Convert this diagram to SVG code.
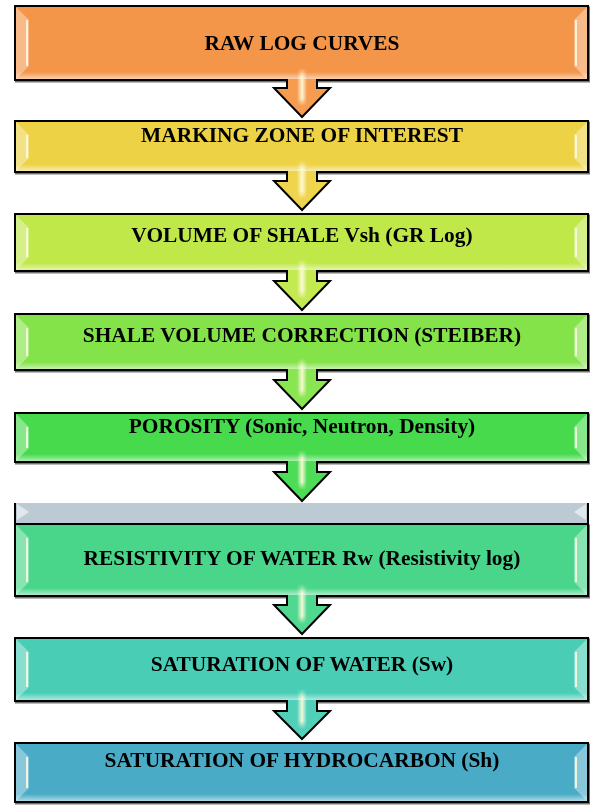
<svg xmlns="http://www.w3.org/2000/svg" width="592" height="805" viewBox="0 0 592 805">
<defs>
<linearGradient id="glowB" x1="0" y1="0" x2="0" y2="1">
<stop offset="0" stop-color="#fff" stop-opacity="0"/>
<stop offset="1" stop-color="#fff" stop-opacity="0.55"/>
</linearGradient>
<linearGradient id="shaftHi" x1="0" y1="0" x2="1" y2="0">
<stop offset="0" stop-color="#fff" stop-opacity="0"/>
<stop offset="0.5" stop-color="#fffbd0" stop-opacity="0.95"/>
<stop offset="1" stop-color="#fff" stop-opacity="0"/>
</linearGradient>
<linearGradient id="shaftFade" x1="0" y1="0" x2="0" y2="1">
<stop offset="0" stop-color="#fff" stop-opacity="0"/>
<stop offset="0.25" stop-color="#fff" stop-opacity="1"/>
<stop offset="0.8" stop-color="#fff" stop-opacity="1"/>
<stop offset="1" stop-color="#fff" stop-opacity="0"/>
</linearGradient>
<mask id="fadeMask" maskContentUnits="objectBoundingBox">
<rect width="1" height="1" fill="url(#shaftFade)"/>
</mask>
<filter id="sh" x="-5%" y="-5%" width="110%" height="115%">
<feDropShadow dx="1" dy="1.5" stdDeviation="0.6" flood-color="#000" flood-opacity="0.55"/>
</filter>
</defs>
<style>
.box{stroke:#000;stroke-width:2;stroke-linejoin:miter}
.bev{fill:#fff;fill-opacity:0.35}
.hl{stroke:#fffbe0;stroke-opacity:0.85;stroke-width:2;fill:none}
.glow{fill:url(#glowB)}
.lbl{font-family:"Liberation Serif","Times New Roman",serif;font-weight:bold;font-size:21.4px;fill:#000;text-anchor:middle;dominant-baseline:central}
.edge{fill:none;stroke:#000;stroke-width:2;stroke-linejoin:miter}
.hi{fill:url(#shaftHi)}
</style>

<!-- Nodes -->
<g id="n1" filter="url(#sh)">
<rect class="box" x="15" y="6" width="573" height="74" fill="#F4964A"/>
<polygon class="bev" points="16,7 29,20 29,66 16,79"/>
<polygon class="bev" points="587,7 574,20 574,66 587,79"/>
<line class="hl" x1="27" y1="20" x2="27" y2="66"/><line class="hl" x1="576" y1="20" x2="576" y2="66"/>
<rect class="glow" x="16" y="72" width="571" height="7"/>
<text class="lbl" x="302" y="43">RAW LOG CURVES</text>
</g>
<g id="n2" filter="url(#sh)">
<rect class="box" x="15" y="121" width="573" height="51" fill="#EDD245"/>
<polygon class="bev" points="16,122 29,135 29,158 16,171"/>
<polygon class="bev" points="587,122 574,135 574,158 587,171"/>
<line class="hl" x1="27" y1="135" x2="27" y2="158"/><line class="hl" x1="576" y1="135" x2="576" y2="158"/>
<rect class="glow" x="16" y="164" width="571" height="7"/>
<text class="lbl" x="302" y="135">MARKING ZONE OF INTEREST</text>
</g>
<g id="n3" filter="url(#sh)">
<rect class="box" x="15" y="214" width="573" height="57" fill="#C1E84A"/>
<polygon class="bev" points="16,215 29,228 29,257 16,270"/>
<polygon class="bev" points="587,215 574,228 574,257 587,270"/>
<line class="hl" x1="27" y1="228" x2="27" y2="257"/><line class="hl" x1="576" y1="228" x2="576" y2="257"/>
<rect class="glow" x="16" y="263" width="571" height="7"/>
<text class="lbl" x="302" y="235">VOLUME OF SHALE Vsh (GR Log)</text>
</g>
<g id="n4" filter="url(#sh)">
<rect class="box" x="15" y="314" width="573" height="56" fill="#84E34A"/>
<polygon class="bev" points="16,315 29,328 29,356 16,369"/>
<polygon class="bev" points="587,315 574,328 574,356 587,369"/>
<line class="hl" x1="27" y1="328" x2="27" y2="356"/><line class="hl" x1="576" y1="328" x2="576" y2="356"/>
<rect class="glow" x="16" y="362" width="571" height="7"/>
<text class="lbl" x="302" y="335">SHALE VOLUME CORRECTION (STEIBER)</text>
</g>
<g id="n5" filter="url(#sh)">
<rect class="box" x="15" y="413" width="573" height="49" fill="#46DA4E"/>
<polygon class="bev" points="16,414 29,427 29,448 16,461"/>
<polygon class="bev" points="587,414 574,427 574,448 587,461"/>
<line class="hl" x1="27" y1="427" x2="27" y2="448"/><line class="hl" x1="576" y1="427" x2="576" y2="448"/>
<rect class="glow" x="16" y="454" width="571" height="7"/>
<text class="lbl" x="302" y="426">POROSITY (Sonic, Neutron, Density)</text>
</g>
<g id="hidden-box">
<rect x="15" y="503" width="573" height="20" fill="#BCCBD3"/>
<line x1="15" y1="503" x2="15" y2="523" stroke="#000" stroke-width="2"/>
<line x1="588" y1="503" x2="588" y2="523" stroke="#000" stroke-width="2"/>
<polygon points="17,504 29,512 17,520" fill="#fff" fill-opacity="0.55"/>
<polygon points="586,504 574,512 586,520" fill="#fff" fill-opacity="0.55"/>
</g>
<g id="n6" filter="url(#sh)">
<rect class="box" x="15" y="524" width="573" height="72" fill="#4AD68A"/>
<polygon class="bev" points="16,525 29,538 29,582 16,595"/>
<polygon class="bev" points="587,525 574,538 574,582 587,595"/>
<line class="hl" x1="27" y1="538" x2="27" y2="582"/><line class="hl" x1="576" y1="538" x2="576" y2="582"/>
<rect class="glow" x="16" y="588" width="571" height="7"/>
<text class="lbl" x="302" y="558">RESISTIVITY OF WATER Rw (Resistivity log)</text>
</g>
<g id="n7" filter="url(#sh)">
<rect class="box" x="15" y="638" width="573" height="63" fill="#49CEB5"/>
<polygon class="bev" points="16,639 29,652 29,687 16,700"/>
<polygon class="bev" points="587,639 574,652 574,687 587,700"/>
<line class="hl" x1="27" y1="652" x2="27" y2="687"/><line class="hl" x1="576" y1="652" x2="576" y2="687"/>
<rect class="glow" x="16" y="693" width="571" height="7"/>
<text class="lbl" x="302" y="664">SATURATION OF WATER (Sw)</text>
</g>
<g id="n8" filter="url(#sh)">
<rect class="box" x="15" y="743" width="573" height="59" fill="#4AABC6"/>
<polygon class="bev" points="16,744 29,757 29,788 16,801"/>
<polygon class="bev" points="587,744 574,757 574,788 587,801"/>
<line class="hl" x1="27" y1="757" x2="27" y2="788"/><line class="hl" x1="576" y1="757" x2="576" y2="788"/>
<rect class="glow" x="16" y="794" width="571" height="7"/>
<text class="lbl" x="302" y="760">SATURATION OF HYDROCARBON (Sh)</text>
</g>

<!-- Connectors (callout arrows) -->
<g id="connectors">
<g id="c1">
<polygon points="288,79 288,88 274,88 302,117 330,88 316,88 316,79" fill="#F59C50"/>
<rect class="hi" x="297" y="68" width="10" height="38" mask="url(#fadeMask)"/>
<path class="edge" d="M287,80 L287,88 L274,88 L302,117 L330,88 L317,88 L317,80"/>
</g>
<g id="c2">
<polygon points="288,171 288,181 274,181 302,210 330,181 316,181 316,171" fill="#EFD54E"/>
<rect class="hi" x="297" y="160" width="10" height="39" mask="url(#fadeMask)"/>
<path class="edge" d="M287,172 L287,181 L274,181 L302,210 L330,181 L317,181 L317,172"/>
</g>
<g id="c3">
<polygon points="288,270 288,281 274,281 302,310 330,281 316,281 316,270" fill="#C4EA52"/>
<rect class="hi" x="297" y="259" width="10" height="40" mask="url(#fadeMask)"/>
<path class="edge" d="M287,271 L287,281 L274,281 L302,310 L330,281 L317,281 L317,271"/>
</g>
<g id="c4">
<polygon points="288,369 288,380 274,380 302,409 330,380 316,380 316,369" fill="#8AE552"/>
<rect class="hi" x="297" y="358" width="10" height="40" mask="url(#fadeMask)"/>
<path class="edge" d="M287,370 L287,380 L274,380 L302,409 L330,380 L317,380 L317,370"/>
</g>
<g id="c5">
<polygon points="288,461 288,472 274,472 302,501 330,472 316,472 316,461" fill="#4CDC56"/>
<rect class="hi" x="297" y="450" width="10" height="40" mask="url(#fadeMask)"/>
<path class="edge" d="M287,462 L287,472 L274,472 L302,501 L330,472 L317,472 L317,462"/>
</g>
<g id="c6">
<polygon points="288,595 288,605 274,605 302,634 330,605 316,605 316,595" fill="#50D890"/>
<rect class="hi" x="297" y="584" width="10" height="40" mask="url(#fadeMask)"/>
<path class="edge" d="M287,596 L287,605 L274,605 L302,634 L330,605 L317,605 L317,596"/>
</g>
<g id="c7">
<polygon points="288,700 288,711 274,711 302,739 330,711 316,711 316,700" fill="#50D0B9"/>
<rect class="hi" x="297" y="689" width="10" height="40" mask="url(#fadeMask)"/>
<path class="edge" d="M287,701 L287,711 L274,711 L302,739 L330,711 L317,711 L317,701"/>
</g>
</g>
</svg>
